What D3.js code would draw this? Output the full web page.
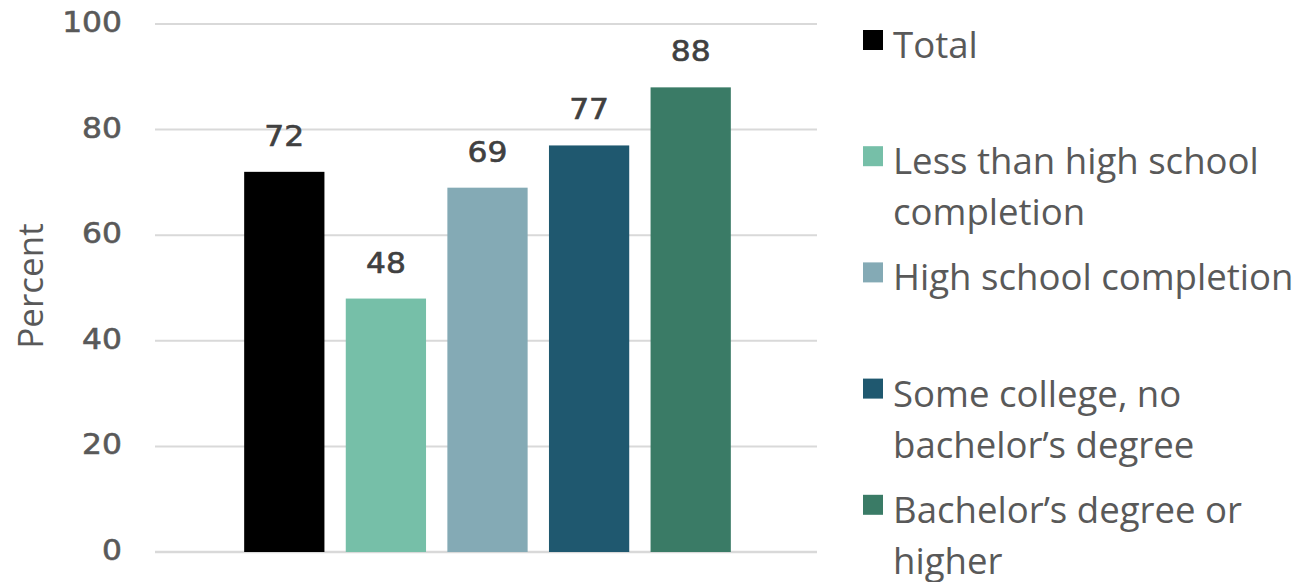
<!DOCTYPE html>
<html>
<head>
<meta charset="utf-8">
<script src="https://cdn.jsdelivr.net/npm/d3@7/dist/d3.min.js"></script>
<style>
  html, body { margin: 0; padding: 0; background: #ffffff; }
  svg { display: block; }
</style>
</head>
<body>
<svg id="chart" width="1300" height="582"></svg>
<script>
// ---- data ----
const series = ["Total", "Less than high school completion", "High school completion", "Some college, no bachelor\u2019s degree", "Bachelor\u2019s degree or higher"];
const values = [72, 48, 69, 77, 88];
const legendLines = [["Total"], ["Less than high school", "completion"], ["High school completion"], ["Some college, no", "bachelor\u2019s degree"], ["Bachelor\u2019s degree or", "higher"]];
const colors = ["#000000", "#76bfa8", "#84aab5", "#1f586f", "#3a7b66"];
const yTicks = [0, 20, 40, 60, 80, 100];
const yLabel = "Percent";

// ---- layout ----
const svg = d3.select("#chart");
const plot = { left: 155, right: 817, top: 24, bottom: 552 };
const numFont = "'DejaVu Sans', sans-serif";
const txtFont = "'Open Sans', sans-serif";
const numScaleX = 1.12;

const y = d3.scaleLinear().domain([0, 100]).range([plot.bottom, plot.top]);
const cx = (plot.left + plot.right) / 2 + 1.5;
const x = d3.scaleBand().domain(series).range([cx - 254, cx + 254]).paddingInner(0.21).paddingOuter(0.105);

// gridlines
svg.append("g").selectAll("line").data(yTicks).join("line")
  .attr("x1", plot.left).attr("x2", plot.right)
  .attr("y1", d => y(d)).attr("y2", d => y(d))
  .attr("stroke", "#d9d9d9")
  .attr("stroke-width", d => d === 0 ? 2.5 : 2);

// tick labels
svg.append("g").selectAll("g").data(yTicks).join("g")
  .attr("transform", d => `translate(122,${y(d) + 8}) scale(${numScaleX},1)`)
  .append("text")
  .attr("text-anchor", "end")
  .attr("font-family", numFont).attr("font-size", 28)
  .attr("fill", "#595959").attr("stroke", "#595959").attr("stroke-width", 0.6)
  .text(d => d);

// axis title
svg.append("text")
  .attr("transform", `translate(43,286) rotate(-90)`)
  .attr("text-anchor", "middle")
  .attr("font-family", txtFont).attr("font-size", 35)
  .attr("fill", "#595959")
  .text(yLabel);

// bars
svg.append("g").selectAll("rect").data(series).join("rect")
  .attr("x", d => x(d)).attr("width", x.bandwidth())
  .attr("y", (d, i) => y(values[i]))
  .attr("height", (d, i) => y(0) - y(values[i]))
  .attr("fill", (d, i) => colors[i]);

// value labels
svg.append("g").selectAll("g").data(series).join("g")
  .attr("transform", (d, i) => `translate(${x(d) + x.bandwidth() / 2},${y(values[i]) - 26}) scale(${numScaleX},1)`)
  .append("text")
  .attr("text-anchor", "middle")
  .attr("font-family", numFont).attr("font-size", 28)
  .attr("fill", "#404040").attr("stroke", "#404040").attr("stroke-width", 0.6)
  .text((d, i) => values[i]);

// legend
const legX = 863, legTextX = 893, legY0 = 58, legStep = 116.2, lineH = 51;
const leg = svg.append("g").selectAll("g").data(series).join("g")
  .attr("transform", (d, i) => `translate(0,${legY0 + i * legStep})`);
leg.append("rect")
  .attr("x", legX).attr("y", -28).attr("width", 20).attr("height", 20)
  .attr("fill", (d, i) => colors[i]);
leg.append("text")
  .attr("font-family", txtFont).attr("font-size", 36.6)
  .attr("fill", "#595959")
  .selectAll("tspan").data((d, i) => legendLines[i]).join("tspan")
  .attr("x", legTextX).attr("y", (d, j) => j * lineH)
  .text(d => d);
</script>
</body>
</html>
